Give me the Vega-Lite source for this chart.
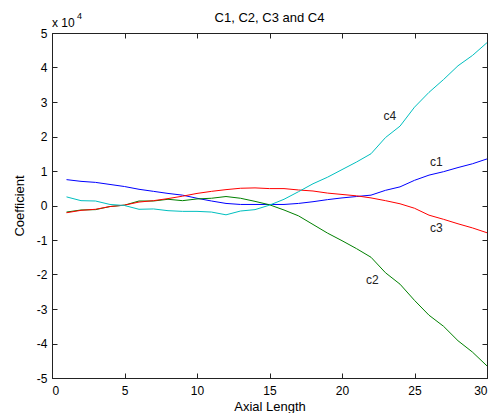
{
  "$schema": "https://vega.github.io/schema/vega-lite/v6.json",
  "width": 435,
  "height": 345,
  "autosize": {"type": "none"},
  "padding": {"left": 52, "top": 33, "right": 7, "bottom": 35},
  "background": "white",
  "title": {"text": "C1, C2, C3 and C4", "fontSize": 13, "fontWeight": "normal", "font": "Liberation Sans", "color": "#000", "offset": -13, "anchor": "middle"},
  "config": {
    "view": {"stroke": "#222", "strokeWidth": 1},
    "axis": {"grid": false, "domainColor": "#222", "tickColor": "#222", "labelColor": "#000", "titleColor": "#000", "labelFont": "Liberation Sans", "titleFont": "Liberation Sans", "labelFontSize": 12, "titleFontSize": 13, "titleFontWeight": "normal", "tickSize": -5}
  },
  "data": {"values": [
    {"x": 1, "c1": 7500, "c2": -1900, "c3": -2100, "c4": 2500},
    {"x": 2, "c1": 7000, "c2": -1300, "c3": -1400, "c4": 1400},
    {"x": 3, "c1": 6700, "c2": -1200, "c3": -1100, "c4": 1300},
    {"x": 4, "c1": 6100, "c2": -300, "c3": -300, "c4": 300},
    {"x": 5, "c1": 5500, "c2": 100, "c3": 100, "c4": 0},
    {"x": 6, "c1": 4700, "c2": 1300, "c3": 1000, "c4": -1100},
    {"x": 7, "c1": 4100, "c2": 1300, "c3": 1400, "c4": -1000},
    {"x": 8, "c1": 3500, "c2": 1800, "c3": 2000, "c4": -1500},
    {"x": 9, "c1": 3000, "c2": 1400, "c3": 2700, "c4": -1700},
    {"x": 10, "c1": 2100, "c2": 1900, "c3": 3500, "c4": -1700},
    {"x": 11, "c1": 1300, "c2": 2100, "c3": 4100, "c4": -1900},
    {"x": 12, "c1": 600, "c2": 2600, "c3": 4600, "c4": -2700},
    {"x": 13, "c1": 300, "c2": 2100, "c3": 5000, "c4": -1600},
    {"x": 14, "c1": 300, "c2": 1200, "c3": 5100, "c4": -1200},
    {"x": 15, "c1": 300, "c2": 200, "c3": 4900, "c4": 100},
    {"x": 16, "c1": 300, "c2": -1300, "c3": 4900, "c4": 1800},
    {"x": 17, "c1": 600, "c2": -3000, "c3": 4500, "c4": 4000},
    {"x": 18, "c1": 1100, "c2": -5500, "c3": 4200, "c4": 6300},
    {"x": 19, "c1": 1700, "c2": -8000, "c3": 3600, "c4": 8200},
    {"x": 20, "c1": 2200, "c2": -10200, "c3": 3200, "c4": 10400},
    {"x": 21, "c1": 2600, "c2": -12500, "c3": 2800, "c4": 12600},
    {"x": 22, "c1": 3000, "c2": -15000, "c3": 2200, "c4": 15000},
    {"x": 23, "c1": 4400, "c2": -19500, "c3": 1400, "c4": 19700},
    {"x": 24, "c1": 5400, "c2": -22800, "c3": 500, "c4": 23000},
    {"x": 25, "c1": 7300, "c2": -27500, "c3": -800, "c4": 28500},
    {"x": 26, "c1": 8800, "c2": -31800, "c3": -2800, "c4": 32800},
    {"x": 27, "c1": 9800, "c2": -35000, "c3": -4000, "c4": 36500},
    {"x": 28, "c1": 11000, "c2": -39200, "c3": -5300, "c4": 40500},
    {"x": 29, "c1": 12100, "c2": -42500, "c3": -6500, "c4": 43500},
    {"x": 30, "c1": 13500, "c2": -46500, "c3": -7900, "c4": 47200}
  ]},
  "layer": [
    {
      "transform": [{"fold": ["c1", "c2", "c3", "c4"], "as": ["series", "value"]}],
      "mark": {"type": "line", "strokeWidth": 1, "clip": true},
      "encoding": {
        "x": {"field": "x", "type": "quantitative", "scale": {"domain": [0, 30], "nice": false, "zero": false},
              "axis": {"orient": "bottom", "values": [0, 5, 10, 15, 20, 25, 30], "title": "Axial Length", "titlePadding": 4, "labelPadding": 12}},
        "y": {"field": "value", "type": "quantitative", "scale": {"domain": [-50000, 50000], "nice": false},
              "axis": {"orient": "left", "values": [-50000, -40000, -30000, -20000, -10000, 0, 10000, 20000, 30000, 40000, 50000], "labelExpr": "datum.value / 10000", "title": "Coefficient", "titlePadding": 10, "labelPadding": 10}},
        "color": {"field": "series", "type": "nominal", "scale": {"domain": ["c1", "c2", "c3", "c4"], "range": ["#0000ff", "#008000", "#ff0000", "#00bfbf"]}, "legend": null},
        "detail": {"field": "series"}
      }
    },
    {
      "data": {"values": [
        {"label": "c1", "lx": 26.5, "ly": 12600},
        {"label": "c2", "lx": 22.1, "ly": -21700},
        {"label": "c3", "lx": 26.5, "ly": -6400},
        {"label": "c4", "lx": 23.3, "ly": 25800}
      ]},
      "mark": {"type": "text", "font": "Liberation Sans", "fontSize": 12, "color": "#222", "align": "center", "baseline": "middle"},
      "encoding": {
        "x": {"field": "lx", "type": "quantitative", "axis": null},
        "y": {"field": "ly", "type": "quantitative", "axis": null},
        "text": {"field": "label"}
      }
    },
    {
      "data": {"values": [{"t": "x 10", "tx": 0, "ty": 50000}]},
      "mark": {"type": "text", "font": "Liberation Sans", "fontSize": 12, "color": "#000", "align": "left", "baseline": "alphabetic", "dy": -6},
      "encoding": {
        "x": {"field": "tx", "type": "quantitative", "axis": null},
        "y": {"field": "ty", "type": "quantitative", "axis": null},
        "text": {"field": "t"}
      }
    },
    {
      "data": {"values": [{"t": "4", "tx": 0, "ty": 50000}]},
      "mark": {"type": "text", "font": "Liberation Sans", "fontSize": 9, "color": "#000", "align": "left", "baseline": "alphabetic", "dx": 25, "dy": -14},
      "encoding": {
        "x": {"field": "tx", "type": "quantitative", "axis": null},
        "y": {"field": "ty", "type": "quantitative", "axis": null},
        "text": {"field": "t"}
      }
    },
    {
      "data": {"values": [{"ax": 0, "ay": 0}]},
      "mark": {"type": "point", "opacity": 0},
      "encoding": {
        "x": {"field": "ax", "type": "quantitative", "axis": {"orient": "top", "values": [0, 5, 10, 15, 20, 25, 30], "labels": false, "title": null, "domain": false, "minExtent": 0, "maxExtent": 0, "labelPadding": 0}},
        "y": {"field": "ay", "type": "quantitative", "axis": {"orient": "right", "values": [-50000, -40000, -30000, -20000, -10000, 0, 10000, 20000, 30000, 40000, 50000], "labels": false, "title": null, "domain": false, "minExtent": 0, "maxExtent": 0}}
      }
    }
  ],
  "resolve": {"axis": {"x": "independent", "y": "independent"}}
}
